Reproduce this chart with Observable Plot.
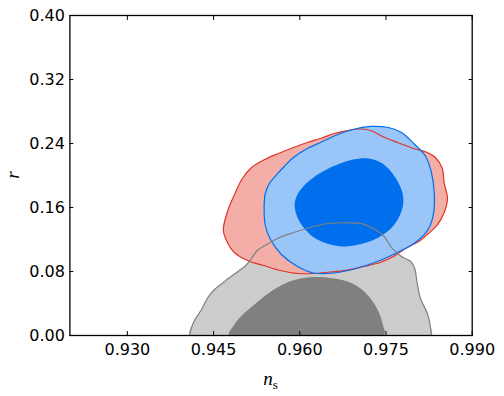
<!DOCTYPE html>
<html>
<head>
<meta charset="utf-8">
<script src="https://cdn.jsdelivr.net/npm/d3@7"></script>
<script src="https://cdn.jsdelivr.net/npm/@observablehq/plot@0.6"></script>
<style>
  html, body { margin: 0; padding: 0; background: white; }
</style>
</head>
<body>
<div id="chart"></div>
<script>
// Axis ticks
const xTicks = [0.930, 0.945, 0.960, 0.975, 0.990];
const yTicks = [0.00, 0.08, 0.16, 0.24, 0.32, 0.40];

// Gray contours (outer = 95%, inner = 68%), [n_s, r]
const grayOuter = [
  [0.9408,0.0000],[0.9415,0.0163],[0.9429,0.0325],[0.9439,0.0463],[0.9450,0.0563],
  [0.9467,0.0663],[0.9490,0.0788],[0.9506,0.0875],[0.9516,0.0963],[0.9526,0.1063],
  [0.9544,0.1144],[0.9561,0.1213],[0.9584,0.1275],[0.9606,0.1325],[0.9631,0.1375],
  [0.9653,0.1403],[0.9683,0.1409],[0.9709,0.1396],[0.9728,0.1338],[0.9746,0.1244],
  [0.9761,0.1088],[0.9777,0.0988],[0.9793,0.0925],[0.9800,0.0838],[0.9804,0.0663],
  [0.9810,0.0463],[0.9822,0.0275],[0.9827,0.0125],[0.9829,0.0000]
];
const grayInner = [
  [0.9477,0.0000],[0.9485,0.0125],[0.9499,0.0250],[0.9519,0.0375],[0.9539,0.0494],
  [0.9558,0.0588],[0.9580,0.0669],[0.9606,0.0719],[0.9633,0.0731],[0.9653,0.0719],
  [0.9683,0.0675],[0.9706,0.0588],[0.9723,0.0463],[0.9737,0.0300],[0.9744,0.0150],
  [0.9746,0.0000]
];

// Red contour (outer)
const redOuter = [
  [0.9467,0.1313],[0.9471,0.1475],[0.9478,0.1625],[0.9485,0.1738],[0.9499,0.1950],
  [0.9516,0.2100],[0.9539,0.2200],[0.9563,0.2275],[0.9589,0.2350],[0.9613,0.2413],
  [0.9636,0.2463],[0.9660,0.2525],[0.9685,0.2563],[0.9702,0.2581],[0.9723,0.2563],
  [0.9746,0.2481],[0.9770,0.2413],[0.9798,0.2338],[0.9822,0.2288],[0.9836,0.2225],
  [0.9848,0.2088],[0.9851,0.1913],[0.9857,0.1713],[0.9852,0.1550],[0.9840,0.1388],
  [0.9824,0.1275],[0.9807,0.1175],[0.9787,0.1100],[0.9763,0.0988],[0.9740,0.0913],
  [0.9711,0.0863],[0.9680,0.0813],[0.9653,0.0794],[0.9624,0.0775],[0.9596,0.0775],
  [0.9566,0.0813],[0.9537,0.0875],[0.9509,0.0938],[0.9486,0.1038],[0.9474,0.1163]
];

// Blue contours (outer = 95%, inner = 68%)
const blueOuter = [
  [0.9538,0.1625],[0.9540,0.1775],[0.9547,0.1900],[0.9560,0.2013],[0.9573,0.2113],
  [0.9589,0.2225],[0.9610,0.2325],[0.9636,0.2413],[0.9662,0.2500],[0.9692,0.2575],
  [0.9723,0.2613],[0.9754,0.2600],[0.9777,0.2538],[0.9800,0.2388],[0.9819,0.2238],
  [0.9829,0.2038],[0.9834,0.1775],[0.9833,0.1538],[0.9827,0.1375],[0.9817,0.1263],
  [0.9796,0.1138],[0.9770,0.1038],[0.9735,0.0925],[0.9695,0.0831],[0.9659,0.0781],
  [0.9624,0.0781],[0.9596,0.0863],[0.9568,0.1013],[0.9549,0.1200],[0.9540,0.1375]
];
const blueInner = [
  [0.9591,0.1625],[0.9595,0.1750],[0.9606,0.1863],[0.9624,0.1975],[0.9640,0.2050],
  [0.9666,0.2138],[0.9693,0.2200],[0.9720,0.2213],[0.9744,0.2150],[0.9765,0.1988],
  [0.9778,0.1800],[0.9780,0.1650],[0.9774,0.1500],[0.9761,0.1356],[0.9740,0.1238],
  [0.9713,0.1156],[0.9681,0.1113],[0.9653,0.1138],[0.9626,0.1219],[0.9608,0.1338],
  [0.9596,0.1475]
];

const X = d => d[0], Y = d => d[1];

const plot = Plot.plot({
  width: 504,
  height: 396,
  marginLeft: 69.4,
  marginRight: 32.3,
  marginTop: 15,
  marginBottom: 61,
  style: {fontFamily: "DejaVu Sans", fontSize: "16px", color: "black", background: "white"},
  x: {domain: [0.920, 0.990]},
  y: {domain: [0, 0.40]},
  marks: [
    // filled regions
    Plot.line(grayOuter, {x: X, y: Y, fill: "#cccccc", stroke: "none", curve: "catmull-rom-closed", clip: true}),
    Plot.line(grayInner, {x: X, y: Y, fill: "#808080", stroke: "none", curve: "catmull-rom-closed", clip: true}),
    Plot.line(redOuter, {x: X, y: Y, fill: "#f3aea7", stroke: "none", curve: "catmull-rom-closed"}),
    Plot.line(blueOuter, {x: X, y: Y, fill: "#99c5f8", stroke: "none", curve: "catmull-rom-closed"}),
    Plot.line(blueInner, {x: X, y: Y, fill: "#006fed", stroke: "none", curve: "catmull-rom-closed"}),
    // contour lines
    Plot.line(redOuter, {x: X, y: Y, stroke: "#e03424", strokeWidth: 1.2, curve: "catmull-rom-closed"}),
    Plot.line(blueOuter, {x: X, y: Y, stroke: "#006fed", strokeWidth: 1.2, curve: "catmull-rom-closed"}),
    Plot.line(grayOuter, {x: X, y: Y, stroke: "#808080", strokeWidth: 1.2, curve: "catmull-rom", clip: true}),
    // axes with inward ticks
    Plot.axisX(xTicks, {anchor: "bottom", tickSize: -4, tickPadding: 12.6, tickFormat: d3.format(".3f"), label: null, stroke: "black"}),
    Plot.axisX(xTicks, {anchor: "top", tickSize: -4, tickFormat: () => "", label: null, stroke: "black"}),
    Plot.axisY(yTicks, {anchor: "left", tickSize: -4, tickPadding: 9, tickFormat: d3.format(".2f"), label: null, stroke: "black"}),
    Plot.axisY(yTicks, {anchor: "right", tickSize: -4, tickFormat: () => "", label: null, stroke: "black"}),
    Plot.frame({stroke: "black", strokeWidth: 1.3})
  ]
});

document.getElementById("chart").appendChild(plot);

// Axis titles (math-style labels)
const svg = d3.select(plot);
const xl = svg.append("text")
  .attr("x", 270.5).attr("y", 385)
  .attr("text-anchor", "middle")
  .attr("font-family", "'Liberation Serif', 'DejaVu Serif', serif")
  .attr("font-size", 19)
  .attr("fill", "black");
xl.append("tspan").attr("font-style", "italic").text("n");
xl.append("tspan").attr("font-size", 13).attr("dy", 4).text("s");

svg.append("text")
  .attr("transform", "translate(18.5,175) rotate(-90)")
  .attr("text-anchor", "middle")
  .attr("font-family", "'Liberation Serif', 'DejaVu Serif', serif")
  .attr("font-style", "italic")
  .attr("font-size", 19)
  .attr("fill", "black")
  .text("r");
</script>
</body>
</html>
